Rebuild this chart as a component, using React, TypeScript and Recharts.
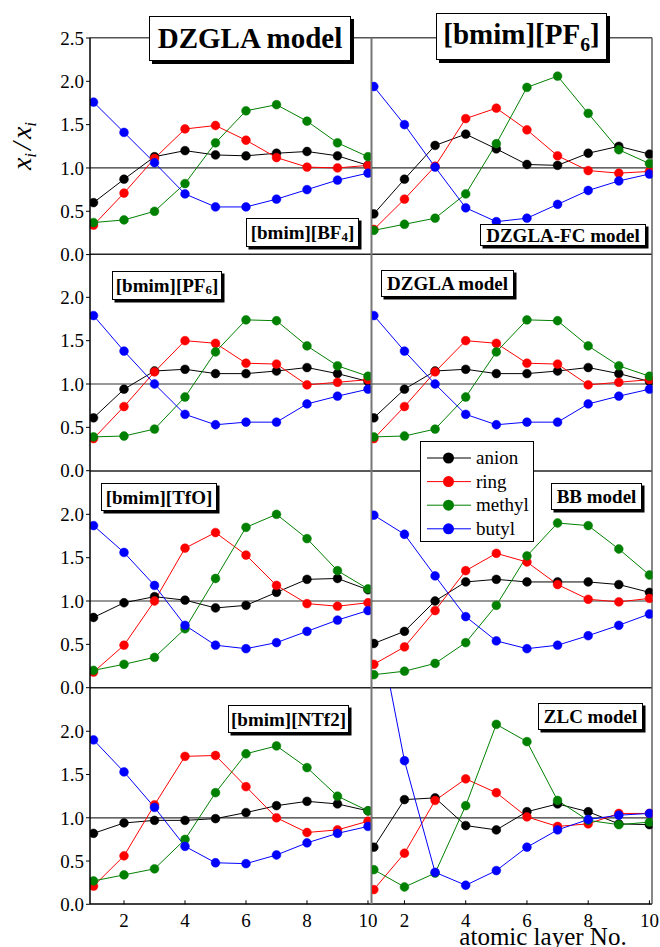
import React from "react";
import { LineChart, Line, XAxis, YAxis, ReferenceLine } from "recharts";

// atomic layer numbers (x) and tick values
const layers = [1, 2, 3, 4, 5, 6, 7, 8, 9, 10];
const xTicks = [2, 4, 6, 8, 10];
const yTicksTop = [0, 0.5, 1, 1.5, 2, 2.5];
const yTicks = [0, 0.5, 1, 1.5, 2];

// [bmim][BF4], DZGLA model
const bf4Anion = [0.6, 0.87, 1.13, 1.2, 1.15, 1.14, 1.17, 1.19, 1.14, 1.03];
const bf4Ring = [0.34, 0.71, 1.11, 1.45, 1.49, 1.32, 1.12, 1.01, 1.0, 1.03];
const bf4Methyl = [0.37, 0.4, 0.5, 0.82, 1.29, 1.66, 1.73, 1.54, 1.29, 1.13];
const bf4Butyl = [1.76, 1.41, 1.06, 0.7, 0.55, 0.55, 0.64, 0.75, 0.86, 0.94];

// [bmim][PF6], DZGLA-FC model
const fcAnion = [0.47, 0.87, 1.26, 1.39, 1.22, 1.04, 1.03, 1.17, 1.25, 1.16];
const fcRing = [0.29, 0.64, 1.02, 1.57, 1.69, 1.44, 1.14, 0.97, 0.94, 0.96];
const fcMethyl = [0.28, 0.35, 0.42, 0.7, 1.28, 1.93, 2.06, 1.63, 1.21, 1.05];
const fcButyl = [1.94, 1.5, 1.01, 0.54, 0.38, 0.42, 0.58, 0.74, 0.85, 0.93];

// [bmim][PF6], DZGLA model (shown twice)
const pf6Anion = [0.61, 0.94, 1.15, 1.17, 1.12, 1.12, 1.15, 1.19, 1.12, 1.03];
const pf6Ring = [0.37, 0.74, 1.14, 1.5, 1.47, 1.24, 1.23, 0.99, 1.02, 1.05];
const pf6Methyl = [0.39, 0.4, 0.48, 0.85, 1.37, 1.74, 1.73, 1.44, 1.21, 1.09];
const pf6Butyl = [1.79, 1.38, 1.0, 0.65, 0.53, 0.56, 0.56, 0.77, 0.86, 0.94];

// [bmim][TfO], DZGLA model
const tfoAnion = [0.81, 0.98, 1.05, 1.01, 0.92, 0.95, 1.1, 1.25, 1.26, 1.13];
const tfoRing = [0.18, 0.49, 1.0, 1.61, 1.79, 1.53, 1.18, 0.97, 0.94, 0.98];
const tfoMethyl = [0.2, 0.27, 0.35, 0.68, 1.26, 1.85, 2.0, 1.72, 1.35, 1.14];
const tfoButyl = [1.87, 1.56, 1.18, 0.72, 0.49, 0.45, 0.52, 0.65, 0.78, 0.89];

// [bmim][PF6], BB model
const bbAnion = [0.51, 0.65, 1.0, 1.22, 1.25, 1.22, 1.22, 1.22, 1.19, 1.1];
const bbRing = [0.27, 0.47, 0.89, 1.35, 1.55, 1.45, 1.19, 1.02, 0.99, 1.03];
const bbMethyl = [0.15, 0.19, 0.28, 0.52, 0.95, 1.52, 1.9, 1.87, 1.6, 1.3];
const bbButyl = [1.99, 1.77, 1.29, 0.82, 0.54, 0.45, 0.49, 0.6, 0.72, 0.85];

// [bmim][NTf2], DZGLA model
const ntfAnion = [0.82, 0.94, 0.97, 0.97, 0.99, 1.06, 1.14, 1.19, 1.16, 1.08];
const ntfRing = [0.21, 0.56, 1.15, 1.71, 1.72, 1.36, 1.0, 0.83, 0.86, 0.96];
const ntfMethyl = [0.27, 0.34, 0.41, 0.75, 1.29, 1.74, 1.83, 1.58, 1.25, 1.08];
const ntfButyl = [1.9, 1.53, 1.12, 0.67, 0.48, 0.47, 0.57, 0.71, 0.82, 0.9];

// [bmim][PF6], ZLC model (butyl layer 1 runs off the top)
const zlcAnion = [0.66, 1.21, 1.23, 0.91, 0.86, 1.07, 1.16, 1.07, 0.93, 0.92];
const zlcRing = [0.17, 0.59, 1.2, 1.45, 1.29, 1.01, 0.9, 0.93, 1.05, 1.05];
const zlcMethyl = [0.4, 0.2, 0.36, 1.14, 2.08, 1.88, 1.2, 0.97, 0.92, 0.95];
const zlcButyl = [3.48, 1.66, 0.37, 0.22, 0.39, 0.66, 0.86, 0.98, 1.03, 1.05];

const series = [
  { key: "anion", color: "#000000" },
  { key: "ring", color: "#ff0000" },
  { key: "methyl", color: "#008000" },
  { key: "butyl", color: "#0000ff" },
];

const makeRows = (anion: number[], ring: number[], methyl: number[], butyl: number[]) =>
  layers.map((layer, i) => ({ layer, anion: anion[i], ring: ring[i], methyl: methyl[i], butyl: butyl[i] }));

// panel grid (page px)
const COL_X = [90, 371.5, 652];
const ROW_Y = [37.7, 254.3, 471, 687.7, 904];
const X_DOMAIN = [[0.885, 10.115], [0.94, 10.1]];
const PAD = 12;
const SERIF = '"Liberation Serif", "Times New Roman", serif';

const Sub = ({ children }: { children: React.ReactNode }) => (
  <span style={{ fontSize: "0.68em", position: "relative", top: "0.38em" }}>{children}</span>
);

const panels = [
  { col: 0, row: 0, data: makeRows(bf4Anion, bf4Ring, bf4Methyl, bf4Butyl),
    label: <>[bmim][BF<Sub>4</Sub>]</>, box: [246, 218, 113, 29] },
  { col: 1, row: 0, data: makeRows(fcAnion, fcRing, fcMethyl, fcButyl),
    label: <>DZGLA-FC model</>, box: [480, 224, 166, 22] },
  { col: 0, row: 1, data: makeRows(pf6Anion, pf6Ring, pf6Methyl, pf6Butyl),
    label: <>[bmim][PF<Sub>6</Sub>]</>, box: [112, 271, 110, 29] },
  { col: 1, row: 1, data: makeRows(pf6Anion, pf6Ring, pf6Methyl, pf6Butyl),
    label: <>DZGLA model</>, box: [381, 270, 133, 27] },
  { col: 0, row: 2, data: makeRows(tfoAnion, tfoRing, tfoMethyl, tfoButyl),
    label: <>[bmim][TfO]</>, box: [101, 483, 116, 28] },
  { col: 1, row: 2, data: makeRows(bbAnion, bbRing, bbMethyl, bbButyl),
    label: <>BB model</>, box: [551, 483, 91, 27] },
  { col: 0, row: 3, data: makeRows(ntfAnion, ntfRing, ntfMethyl, ntfButyl),
    label: <>[bmim][NTf2]</>, box: [228, 705, 121, 28] },
  { col: 1, row: 3, data: makeRows(zlcAnion, zlcRing, zlcMethyl, zlcButyl),
    label: <>ZLC model</>, box: [538, 703, 105, 27] },
];

const XTick = (props: any) => {
  const { x, y, payload } = props;
  return (
    <g>
      <line x1={x} x2={x} y1={y} y2={y - 4} stroke="#000" />
      <text x={x} y={y + 22.5} textAnchor="middle" fontSize={19} fontFamily={SERIF} fill="#000">
        {payload.value}
      </text>
    </g>
  );
};

const Panel = ({ col, row, data }: any) => {
  const showY = col === 0;
  const showX = row === 3;
  const left = showY ? 0 : COL_X[col] - PAD;
  const top = ROW_Y[row] - PAD;
  const plotW = COL_X[col + 1] - COL_X[col];
  const plotH = ROW_Y[row + 1] - ROW_Y[row];
  const width = COL_X[col] - left + plotW + PAD;
  const height = PAD + plotH + (showX ? 44 : PAD);
  return (
    <div style={{ position: "absolute", left, top }}>
      <LineChart
        width={width}
        height={height}
        data={data}
        margin={{ top: PAD, right: PAD, left: showY ? 0 : PAD, bottom: showX ? 0 : PAD }}
      >
        <XAxis
          type="number"
          dataKey="layer"
          domain={X_DOMAIN[col]}
          allowDataOverflow
          ticks={xTicks}
          interval={0}
          hide={!showX}
          height={44}
          axisLine={false}
          tickLine={false}
          tickSize={0}
          tickMargin={0}
          tick={XTick}
        />
        <YAxis
          type="number"
          domain={[0, 2.5]}
          allowDataOverflow
          ticks={row === 0 ? yTicksTop : yTicks}
          interval={0}
          hide={!showY}
          width={90}
          axisLine={false}
          tickSize={4}
          tickLine={{ stroke: "#000" }}
          tick={{ fill: "#000", fontSize: 19, fontFamily: SERIF }}
          tickFormatter={(v: number) => v.toFixed(1)}
        />
        <ReferenceLine y={1} stroke="#333" strokeWidth={1.2} />
        {series.map((s) => (
          <Line
            key={s.key}
            dataKey={s.key}
            stroke={s.color}
            strokeWidth={1}
            dot={{ r: 4.4, fill: s.color, stroke: s.color, strokeWidth: 0.5 }}
            isAnimationActive={false}
          />
        ))}
      </LineChart>
    </div>
  );
};

const Frame = () => (
  <svg width={660} height={947} style={{ position: "absolute", left: 0, top: 0, pointerEvents: "none" }}>
    <line x1={COL_X[0]} x2={COL_X[2]} y1={ROW_Y[0]} y2={ROW_Y[0]} stroke="#555" strokeWidth={1.4} />
    {ROW_Y.slice(1, 4).map((y) => (
      <line key={y} x1={COL_X[0]} x2={COL_X[2]} y1={y} y2={y} stroke="#222" strokeWidth={1.4} />
    ))}
    <line x1={COL_X[0]} x2={COL_X[2]} y1={ROW_Y[4]} y2={ROW_Y[4]} stroke="#000" strokeWidth={1.5} />
    <line x1={COL_X[0]} x2={COL_X[0]} y1={ROW_Y[0]} y2={ROW_Y[4]} stroke="#000" strokeWidth={1.5} />
    <line x1={COL_X[1]} x2={COL_X[1]} y1={ROW_Y[0]} y2={ROW_Y[4]} stroke="#777" strokeWidth={2} />
    <line x1={COL_X[2]} x2={COL_X[2]} y1={ROW_Y[0]} y2={ROW_Y[4]} stroke="#555" strokeWidth={1.4} />
    <text x={543} y={945} textAnchor="middle" fontSize={25} fontFamily={SERIF} fill="#000">
      atomic layer No.
    </text>
    <text
      transform="translate(31,146) rotate(-90)"
      textAnchor="middle"
      fontSize={28}
      fontFamily={SERIF}
      fontStyle="italic"
      fill="#000"
    >
      x<tspan fontSize={17} dy={5}>i</tspan>
      <tspan dy={-5} dx={3}>/</tspan>
      <tspan dx={3}>x</tspan>
      <tspan fontSize={17} dy={5}>i</tspan>
    </text>
  </svg>
);

const boxStyle = (b: number[], fontSize: number, border = 1.5, shadow = 3): React.CSSProperties => ({
  position: "absolute",
  left: b[0],
  top: b[1],
  width: b[2],
  height: b[3],
  boxSizing: "border-box",
  border: `${border}px solid #000`,
  boxShadow: `${shadow}px ${shadow}px 0 #000`,
  background: "#fff",
  display: "flex",
  alignItems: "center",
  justifyContent: "center",
  fontFamily: SERIF,
  fontWeight: "bold",
  fontSize,
  whiteSpace: "nowrap",
  lineHeight: 1,
  color: "#000",
});

const LegendBox = () => (
  <div
    style={{
      position: "absolute",
      left: 420,
      top: 441,
      width: 114,
      height: 101,
      boxSizing: "border-box",
      border: "1px solid #000",
      background: "#fff",
    }}
  >
    <svg width={112} height={99} style={{ display: "block" }}>
      {series.map((s, i) => {
        const cy = 16 + i * 23.6;
        return (
          <g key={s.key}>
            <line x1={6} x2={50} y1={cy} y2={cy} stroke={s.color} strokeWidth={1} />
            <circle cx={27.5} cy={cy} r={5.5} fill={s.color} />
            <text x={55} y={cy + 6} fontSize={19} fontFamily={SERIF} fill="#000">
              {s.key}
            </text>
          </g>
        );
      })}
    </svg>
  </div>
);

export default function App() {
  return (
    <div style={{ position: "absolute", left: 0, top: 0, width: 660, height: 947, background: "#fff" }}>
      {panels.filter((p) => p.col === 0).map((p) => (
        <Panel key={`${p.col}-${p.row}`} {...p} />
      ))}
      <Frame />
      {panels.filter((p) => p.col === 1).map((p) => (
        <Panel key={`${p.col}-${p.row}`} {...p} />
      ))}
      <div style={boxStyle([149, 16, 202, 45], 29)}>DZGLA model</div>
      <div style={boxStyle([436, 13, 171, 47], 29)}>
        <span style={{ position: "relative", top: -2 }}>
          [bmim][PF<Sub>6</Sub>]
        </span>
      </div>
      {panels.map((p) => (
        <div key={`lab-${p.col}-${p.row}`} style={boxStyle(p.box, 19, 1.2, 2.5)}>
          {p.label}
        </div>
      ))}
      <LegendBox />
    </div>
  );
}
